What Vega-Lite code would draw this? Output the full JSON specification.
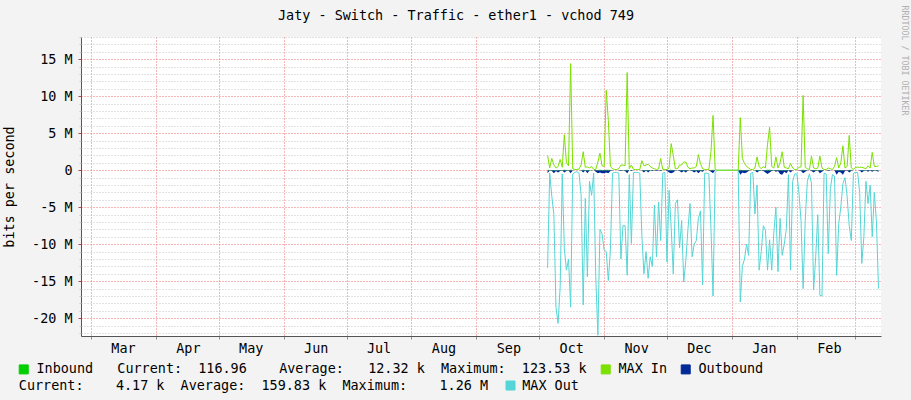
{
"$schema": "https://vega.github.io/schema/vega-lite/v6.json",
"width": 800, "height": 299,
"autosize": "none",
"padding": {"left": 81, "top": 37, "right": 30, "bottom": 64},
"background": "#F3F3F3",
"config": {
  "view": {"stroke": null, "fill": "#FFFFFF"},
  "font": "DejaVu Sans Mono",
  "axis": {"labelFont": "DejaVu Sans Mono", "titleFont": "DejaVu Sans Mono", "labelFontSize": 13.45, "titleFontSize": 13.45, "titleFontWeight": "normal", "labelColor": "#000000", "titleColor": "#000000"},
  "legend": {"symbolStrokeColor": "#000000", "symbolStrokeWidth": 1}
},
"data": {"values": [
{"t":"2013-10-05","mi":2.0,"mo":-13.2,"ob":-0.4,"ib":0.05},
{"t":"2013-10-06","mi":0.3,"mo":-0.4,"ob":-0.03,"ib":0.02},
{"t":"2013-10-07","mi":1.6,"mo":-3.5,"ob":-0.1,"ib":0.04},
{"t":"2013-10-08","mi":0.7,"mo":-6.0,"ob":-0.4,"ib":0.03},
{"t":"2013-10-09","mi":0.3,"mo":-18.5,"ob":-0.1,"ib":0.02},
{"t":"2013-10-10","mi":0.5,"mo":-20.7,"ob":-0.3,"ib":0.03},
{"t":"2013-10-11","mi":1.45,"mo":-15.8,"ob":-0.1,"ib":0.04},
{"t":"2013-10-12","mi":0.4,"mo":-0.5,"ob":-0.03,"ib":0.02},
{"t":"2013-10-13","mi":4.8,"mo":-10.6,"ob":-0.3,"ib":0.06},
{"t":"2013-10-14","mi":1.0,"mo":-13.5,"ob":-0.1,"ib":0.03},
{"t":"2013-10-15","mi":0.6,"mo":-12.0,"ob":-0.05,"ib":0.02},
{"t":"2013-10-16","mi":14.4,"mo":-18.5,"ob":-0.4,"ib":0.08},
{"t":"2013-10-17","mi":0.2,"mo":-0.5,"ob":-0.05,"ib":0.02},
{"t":"2013-10-18","mi":0.1,"mo":-0.3,"ob":-0.02,"ib":0.01},
{"t":"2013-10-19","mi":0.1,"mo":-0.2,"ob":-0.02,"ib":0.01},
{"t":"2013-10-20","mi":0.15,"mo":-0.4,"ob":-0.02,"ib":0.01},
{"t":"2013-10-21","mi":0.7,"mo":-3.3,"ob":-0.05,"ib":0.02},
{"t":"2013-10-22","mi":2.5,"mo":-18.2,"ob":-0.3,"ib":0.05},
{"t":"2013-10-23","mi":0.4,"mo":-3.8,"ob":-0.05,"ib":0.02},
{"t":"2013-10-24","mi":0.45,"mo":-14.4,"ob":-0.4,"ib":0.03},
{"t":"2013-10-25","mi":0.3,"mo":-1.5,"ob":-0.03,"ib":0.02},
{"t":"2013-10-26","mi":0.5,"mo":-3.4,"ob":-0.05,"ib":0.02},
{"t":"2013-10-27","mi":0.1,"mo":-0.4,"ob":-0.02,"ib":0.01},
{"t":"2013-10-28","mi":0.1,"mo":-14.4,"ob":-0.2,"ib":0.02},
{"t":"2013-10-29","mi":1.1,"mo":-22.3,"ob":-0.4,"ib":0.04},
{"t":"2013-10-30","mi":2.3,"mo":-8.0,"ob":-0.3,"ib":0.05},
{"t":"2013-10-31","mi":0.6,"mo":-8.6,"ob":-0.4,"ib":0.03},
{"t":"2013-11-01","mi":0.5,"mo":-10.8,"ob":-0.4,"ib":0.03},
{"t":"2013-11-02","mi":10.8,"mo":-11.0,"ob":-0.3,"ib":0.07},
{"t":"2013-11-03","mi":6.7,"mo":-14.9,"ob":-0.4,"ib":0.06},
{"t":"2013-11-04","mi":0.5,"mo":-10.7,"ob":-0.1,"ib":0.03},
{"t":"2013-11-05","mi":0.2,"mo":-0.4,"ob":-0.03,"ib":0.01},
{"t":"2013-11-06","mi":0.1,"mo":-0.3,"ob":-0.02,"ib":0.01},
{"t":"2013-11-07","mi":0.1,"mo":-0.3,"ob":-0.02,"ib":0.01},
{"t":"2013-11-08","mi":0.2,"mo":-0.4,"ob":-0.03,"ib":0.01},
{"t":"2013-11-09","mi":0.7,"mo":-12.0,"ob":-0.1,"ib":0.03},
{"t":"2013-11-10","mi":0.7,"mo":-7.5,"ob":-0.05,"ib":0.03},
{"t":"2013-11-11","mi":0.6,"mo":-7.5,"ob":-0.1,"ib":0.03},
{"t":"2013-11-12","mi":13.2,"mo":-14.2,"ob":-0.4,"ib":0.08},
{"t":"2013-11-13","mi":0.2,"mo":-0.6,"ob":-0.02,"ib":0.01},
{"t":"2013-11-14","mi":0.7,"mo":-9.9,"ob":-0.1,"ib":0.02},
{"t":"2013-11-15","mi":0.1,"mo":-0.3,"ob":-0.02,"ib":0.01},
{"t":"2013-11-16","mi":0.1,"mo":-0.3,"ob":-0.02,"ib":0.01},
{"t":"2013-11-17","mi":0.1,"mo":-0.3,"ob":-0.02,"ib":0.01},
{"t":"2013-11-18","mi":0.1,"mo":-0.4,"ob":-0.02,"ib":0.01},
{"t":"2013-11-19","mi":1.3,"mo":-8.8,"ob":-0.05,"ib":0.04},
{"t":"2013-11-20","mi":0.6,"mo":-14.0,"ob":-0.3,"ib":0.03},
{"t":"2013-11-21","mi":0.7,"mo":-11.0,"ob":-0.05,"ib":0.03},
{"t":"2013-11-22","mi":0.8,"mo":-14.6,"ob":-0.3,"ib":0.03},
{"t":"2013-11-23","mi":0.5,"mo":-11.7,"ob":-0.05,"ib":0.02},
{"t":"2013-11-24","mi":0.3,"mo":-13.0,"ob":-0.1,"ib":0.02},
{"t":"2013-11-25","mi":0.2,"mo":-4.7,"ob":-0.03,"ib":0.01},
{"t":"2013-11-26","mi":0.1,"mo":-11.7,"ob":-0.1,"ib":0.01},
{"t":"2013-11-27","mi":0.2,"mo":-4.3,"ob":-0.03,"ib":0.01},
{"t":"2013-11-28","mi":1.6,"mo":-9.5,"ob":-0.1,"ib":0.04},
{"t":"2013-11-29","mi":0.1,"mo":-0.4,"ob":-0.02,"ib":0.01},
{"t":"2013-11-30","mi":0.1,"mo":-0.3,"ob":-0.02,"ib":0.01},
{"t":"2013-12-01","mi":0.1,"mo":-12.4,"ob":-0.1,"ib":0.01},
{"t":"2013-12-02","mi":0.3,"mo":-2.7,"ob":-0.3,"ib":0.02},
{"t":"2013-12-03","mi":3.6,"mo":-7.7,"ob":-0.4,"ib":0.05},
{"t":"2013-12-04","mi":2.0,"mo":-14.0,"ob":-0.3,"ib":0.04},
{"t":"2013-12-05","mi":0.2,"mo":-4.5,"ob":-0.05,"ib":0.01},
{"t":"2013-12-06","mi":0.2,"mo":-4.0,"ob":-0.05,"ib":0.01},
{"t":"2013-12-07","mi":0.7,"mo":-10.5,"ob":-0.1,"ib":0.02},
{"t":"2013-12-08","mi":0.7,"mo":-6.8,"ob":-0.3,"ib":0.02},
{"t":"2013-12-09","mi":1.1,"mo":-15.1,"ob":-0.1,"ib":0.03},
{"t":"2013-12-10","mi":1.1,"mo":-12.2,"ob":-0.3,"ib":0.03},
{"t":"2013-12-11","mi":0.4,"mo":-8.0,"ob":-0.05,"ib":0.02},
{"t":"2013-12-12","mi":0.2,"mo":-4.5,"ob":-0.03,"ib":0.01},
{"t":"2013-12-13","mi":0.3,"mo":-11.7,"ob":-0.1,"ib":0.02},
{"t":"2013-12-14","mi":0.3,"mo":-10.0,"ob":-0.3,"ib":0.02},
{"t":"2013-12-15","mi":0.5,"mo":-9.5,"ob":-0.1,"ib":0.02},
{"t":"2013-12-16","mi":2.1,"mo":-6.5,"ob":-0.4,"ib":0.04},
{"t":"2013-12-17","mi":0.9,"mo":-5.5,"ob":-0.1,"ib":0.02},
{"t":"2013-12-18","mi":0.2,"mo":-15.5,"ob":-0.2,"ib":0.02},
{"t":"2013-12-19","mi":0.1,"mo":-0.4,"ob":-0.02,"ib":0.01},
{"t":"2013-12-20","mi":0.1,"mo":-0.4,"ob":-0.02,"ib":0.01},
{"t":"2013-12-21","mi":0.1,"mo":-0.5,"ob":-0.02,"ib":0.01},
{"t":"2013-12-22","mi":2.5,"mo":-7.9,"ob":-0.2,"ib":0.04},
{"t":"2013-12-23","mi":7.4,"mo":-17.0,"ob":-0.4,"ib":0.06},
{"t":"2013-12-24","mi":0.1,"mo":-0.3,"ob":-0.02,"ib":0.01},
{"t":"2013-12-25","mi":0,"mo":0,"ob":0,"ib":0},
{"t":"2013-12-26","mi":0,"mo":0,"ob":0,"ib":0},
{"t":"2013-12-27","mi":0,"mo":0,"ob":0,"ib":0},
{"t":"2013-12-28","mi":0,"mo":0,"ob":0,"ib":0},
{"t":"2013-12-29","mi":0,"mo":0,"ob":0,"ib":0},
{"t":"2013-12-30","mi":0,"mo":0,"ob":0,"ib":0},
{"t":"2013-12-31","mi":0,"mo":0,"ob":0,"ib":0},
{"t":"2014-01-01","mi":0,"mo":0,"ob":0,"ib":0},
{"t":"2014-01-02","mi":0,"mo":0,"ob":0,"ib":0},
{"t":"2014-01-03","mi":0,"mo":0,"ob":0,"ib":0},
{"t":"2014-01-04","mi":0,"mo":0,"ob":0,"ib":0},
{"t":"2014-01-05","mi":7.1,"mo":-17.8,"ob":-0.6,"ib":0.06},
{"t":"2014-01-06","mi":1.6,"mo":-13.0,"ob":-0.3,"ib":0.03},
{"t":"2014-01-07","mi":0.9,"mo":-12.0,"ob":-0.4,"ib":0.02},
{"t":"2014-01-08","mi":0.5,"mo":-10.0,"ob":-0.3,"ib":0.02},
{"t":"2014-01-09","mi":0.3,"mo":-11.5,"ob":-0.1,"ib":0.02},
{"t":"2014-01-10","mi":0.1,"mo":-0.4,"ob":-0.02,"ib":0.01},
{"t":"2014-01-11","mi":0.1,"mo":-0.3,"ob":-0.02,"ib":0.01},
{"t":"2014-01-12","mi":0.3,"mo":-5.9,"ob":-0.05,"ib":0.02},
{"t":"2014-01-13","mi":1.8,"mo":-2.0,"ob":-0.3,"ib":0.03},
{"t":"2014-01-14","mi":0.5,"mo":-13.5,"ob":-0.1,"ib":0.02},
{"t":"2014-01-15","mi":0.2,"mo":-11.0,"ob":-0.05,"ib":0.02},
{"t":"2014-01-16","mi":0.5,"mo":-7.5,"ob":-0.1,"ib":0.02},
{"t":"2014-01-17","mi":0.3,"mo":-8.1,"ob":-0.3,"ib":0.02},
{"t":"2014-01-18","mi":3.5,"mo":-13.5,"ob":-0.5,"ib":0.05},
{"t":"2014-01-19","mi":5.8,"mo":-9.4,"ob":-0.3,"ib":0.06},
{"t":"2014-01-20","mi":0.5,"mo":-13.5,"ob":-0.1,"ib":0.02},
{"t":"2014-01-21","mi":0.3,"mo":-8.5,"ob":-0.05,"ib":0.02},
{"t":"2014-01-22","mi":1.8,"mo":-5.0,"ob":-0.2,"ib":0.03},
{"t":"2014-01-23","mi":0.3,"mo":-13.7,"ob":-0.1,"ib":0.02},
{"t":"2014-01-24","mi":1.0,"mo":-6.5,"ob":-0.5,"ib":0.03},
{"t":"2014-01-25","mi":2.5,"mo":-11.5,"ob":-0.6,"ib":0.04},
{"t":"2014-01-26","mi":0.4,"mo":-10.0,"ob":-0.2,"ib":0.02},
{"t":"2014-01-27","mi":0.3,"mo":-7.9,"ob":-0.4,"ib":0.02},
{"t":"2014-01-28","mi":0.2,"mo":-0.6,"ob":-0.05,"ib":0.01},
{"t":"2014-01-29","mi":0.9,"mo":-13.5,"ob":-0.3,"ib":0.02},
{"t":"2014-01-30","mi":0.3,"mo":-1.5,"ob":-0.05,"ib":0.01},
{"t":"2014-01-31","mi":0.1,"mo":-0.5,"ob":-0.02,"ib":0.01},
{"t":"2014-02-01","mi":0.1,"mo":-0.5,"ob":-0.02,"ib":0.01},
{"t":"2014-02-02","mi":0.4,"mo":-3.0,"ob":-0.05,"ib":0.01},
{"t":"2014-02-03","mi":0.45,"mo":-6.8,"ob":-0.1,"ib":0.02},
{"t":"2014-02-04","mi":10.1,"mo":-16.0,"ob":-0.4,"ib":0.07},
{"t":"2014-02-05","mi":0.4,"mo":-6.8,"ob":-0.2,"ib":0.02},
{"t":"2014-02-06","mi":0.2,"mo":-1.5,"ob":-0.03,"ib":0.01},
{"t":"2014-02-07","mi":0.1,"mo":-0.5,"ob":-0.02,"ib":0.01},
{"t":"2014-02-08","mi":1.9,"mo":-1.8,"ob":-0.1,"ib":0.03},
{"t":"2014-02-09","mi":0.3,"mo":-16.2,"ob":-0.3,"ib":0.02},
{"t":"2014-02-10","mi":0.2,"mo":-11.7,"ob":-0.1,"ib":0.02},
{"t":"2014-02-11","mi":0.3,"mo":-6.0,"ob":-0.05,"ib":0.02},
{"t":"2014-02-12","mi":1.9,"mo":-16.9,"ob":-0.4,"ib":0.03},
{"t":"2014-02-13","mi":0.3,"mo":-17.0,"ob":-0.2,"ib":0.02},
{"t":"2014-02-14","mi":0.1,"mo":-0.4,"ob":-0.02,"ib":0.01},
{"t":"2014-02-15","mi":0.1,"mo":-0.5,"ob":-0.02,"ib":0.01},
{"t":"2014-02-16","mi":0.3,"mo":-11.3,"ob":-0.1,"ib":0.02},
{"t":"2014-02-17","mi":0.2,"mo":-2.5,"ob":-0.03,"ib":0.01},
{"t":"2014-02-18","mi":0.1,"mo":-0.6,"ob":-0.02,"ib":0.01},
{"t":"2014-02-19","mi":0.5,"mo":-0.8,"ob":-0.05,"ib":0.01},
{"t":"2014-02-20","mi":1.7,"mo":-14.2,"ob":-0.6,"ib":0.03},
{"t":"2014-02-21","mi":0.3,"mo":-7.2,"ob":-0.2,"ib":0.02},
{"t":"2014-02-22","mi":1.0,"mo":-5.0,"ob":-0.3,"ib":0.02},
{"t":"2014-02-23","mi":3.3,"mo":-1.8,"ob":-0.6,"ib":0.04},
{"t":"2014-02-24","mi":0.3,"mo":-1.0,"ob":-0.1,"ib":0.01},
{"t":"2014-02-25","mi":0.5,"mo":-3.5,"ob":-0.05,"ib":0.01},
{"t":"2014-02-26","mi":4.7,"mo":-7.5,"ob":-0.3,"ib":0.05},
{"t":"2014-02-27","mi":0.3,"mo":-9.5,"ob":-0.1,"ib":0.02},
{"t":"2014-02-28","mi":0.1,"mo":-0.4,"ob":-0.02,"ib":0.01},
{"t":"2014-03-01","mi":0.4,"mo":-0.3,"ob":-0.02,"ib":0.01},
{"t":"2014-03-02","mi":0.4,"mo":-0.3,"ob":-0.02,"ib":0.01},
{"t":"2014-03-03","mi":0.4,"mo":-3.0,"ob":-0.05,"ib":0.01},
{"t":"2014-03-04","mi":0.4,"mo":-12.6,"ob":-0.3,"ib":0.02},
{"t":"2014-03-05","mi":0.3,"mo":-9.0,"ob":-0.1,"ib":0.02},
{"t":"2014-03-06","mi":0.2,"mo":-1.5,"ob":-0.03,"ib":0.01},
{"t":"2014-03-07","mi":0.6,"mo":-4.5,"ob":-0.2,"ib":0.02},
{"t":"2014-03-08","mi":0.3,"mo":-2.0,"ob":-0.03,"ib":0.01},
{"t":"2014-03-09","mi":2.4,"mo":-9.0,"ob":-0.2,"ib":0.03},
{"t":"2014-03-10","mi":0.5,"mo":-3.0,"ob":-0.05,"ib":0.02},
{"t":"2014-03-11","mi":0.5,"mo":-7.0,"ob":-0.1,"ib":0.02},
{"t":"2014-03-12","mi":0.6,"mo":-16.0,"ob":-0.2,"ib":0.02}
]},
"layer": [
{
 "mark": {"type": "line", "strokeWidth": 1, "clip": true},
 "encoding": {
  "x": {"field": "t", "type": "temporal",
   "scale": {"type": "utc", "domain": [{"year": 2013, "month": 2, "date": 24, "hours": 5, "minutes": 30, "utc": true}, {"year": 2014, "month": 3, "date": 13, "hours": 4, "minutes": 20, "utc": true}]},
   "axis": {"orient": "bottom", "tickCount": {"interval": "month", "step": 1},
    "labelExpr": "(utcyear(datum.value) == 2014 && utcmonth(datum.value) == 2) ? '' : utcFormat(datum.value, '%b')",
    "labelOffset": 32, "labelPadding": 2, "tickSize": 3, "tickColor": "#909090",
    "domainColor": "#555555", "grid": true, "gridColor": "#F07070", "gridDash": [1, 2], "gridOpacity": 1,
    "title": null, "labelOverlap": false, "labelFlush": false, "labelBound": false}},
  "y": {"field": "mo", "type": "quantitative",
   "scale": {"domain": [-22.4, 18], "nice": false, "zero": false},
   "axis": {"orient": "left", "values": [-20, -15, -10, -5, 0, 5, 10, 15],
    "labelExpr": "datum.value == 0 ? '0' : datum.value + ' M'",
    "grid": true, "gridColor": "#F07070", "gridDash": [1, 2], "gridOpacity": 1,
    "tickSize": 3, "tickColor": "#A05050", "labelPadding": 6, "domainColor": "#555555",
    "title": "bits per second", "titleX": -68, "titleY": 149.5, "titleAngle": -90, "titleAlign": "center", "titleBaseline": "alphabetic"}},
  "stroke": {"datum": "MAX Out", "type": "nominal",
   "scale": {"domain": ["MAX Out"], "range": ["#55D5D5"]},
   "legend": {"orient": "none", "legendX": -62.2, "legendY": 341.8,
    "title": "Current:\u00a0\u00a0\u00a0\u00a04.17\u00a0k\u00a0\u00a0Average:\u00a0\u00a0159.83\u00a0k\u00a0\u00a0Maximum:\u00a0\u00a0\u00a0\u00a01.26\u00a0M",
    "titleOrient": "left", "titleFont": "DejaVu Sans Mono", "titleFontSize": 13.45, "titleFontWeight": "normal", "titleColor": "#000000",
    "titleLimit": 1000, "titlePadding": 15, "titleBaseline": "middle", "titleAnchor": "middle",
    "symbolType": "square", "symbolSize": 81, "symbolStrokeWidth": 1, "symbolStrokeColor": "#000000", "symbolFillColor": "#55D5D5",
    "labelFont": "DejaVu Sans Mono", "labelFontSize": 13.45, "labelColor": "#000000", "labelOffset": 5, "labelLimit": 1000, "padding": 0,
    "encode": {"symbols": {"enter": {"fill": {"value": "#55D5D5"}, "stroke": {"value": "#000000"}, "strokeWidth": {"value": 1}}, "update": {"fill": {"value": "#55D5D5"}, "stroke": {"value": "#000000"}, "strokeWidth": {"value": 1}, "opacity": {"value": 1}, "strokeOpacity": {"value": 1}}}}}}
 }
},
{
 "mark": {"type": "area", "clip": true},
 "encoding": {
  "x": {"field": "t", "type": "temporal",
   "axis": {"orient": "top", "labels": false, "ticks": false, "domain": false, "grid": false,
    "title": "Jaty - Switch - Traffic - ether1 - vchod 749", "titleX": 374.5, "titleY": -18, "titleAlign": "center", "titleBaseline": "alphabetic"}},
  "y": {"field": "ob", "type": "quantitative",
   "axis": {"orient": "left", "values": [-22, -21, -19, -18, -17, -16, -14, -13, -12, -11, -9, -8, -7, -6, -4, -3, -2, -1, 1, 2, 3, 4, 6, 7, 8, 9, 11, 12, 13, 14, 16, 17, 18],
    "labels": false, "domain": false, "grid": true, "gridColor": "#C4C4C4", "gridDash": [1, 2], "gridOpacity": 1,
    "tickSize": 2, "tickColor": "#C8C8C8", "title": null}},
  "color": {"datum": "Outbound", "type": "nominal",
   "scale": {"domain": ["Inbound", "MAX In", "Outbound"], "range": ["#00CF00", "#7CE000", "#002A97"]},
   "legend": {"orient": "none", "legendX": -64, "legendY": 325.3, "direction": "horizontal", "title": null,
    "symbolType": "square", "symbolSize": 81, "symbolStrokeWidth": 1, "symbolStrokeColor": "#000000",
    "labelFont": "DejaVu Sans Mono", "labelFontSize": 13.45, "labelColor": "#000000", "labelOffset": 6, "labelLimit": 1000,
    "columnPadding": 12, "padding": 0,
    "labelExpr": "datum.label == 'Inbound' ? 'Inbound\u00a0\u00a0\u00a0Current:\u00a0\u00a0116.96\u00a0\u00a0\u00a0\u00a0Average:\u00a0\u00a0\u00a012.32\u00a0k\u00a0\u00a0Maximum:\u00a0\u00a0123.53\u00a0k' : datum.label",
    "encode": {"symbols": {"enter": {"stroke": {"value": "#000000"}, "strokeWidth": {"value": 1}}, "update": {"fill": {"scale": "color", "field": "value"}, "stroke": {"value": "#000000"}, "strokeWidth": {"value": 1}, "opacity": {"value": 1}, "strokeOpacity": {"value": 1}}}}}}
 }
},
{
 "mark": {"type": "area", "clip": true},
 "encoding": {
  "x": {"field": "t", "type": "temporal", "axis": null},
  "y": {"field": "ib", "type": "quantitative",
   "axis": {"orient": "right", "labels": false, "ticks": false, "domain": false, "grid": false,
    "title": "RRDTOOL / TOBI OETIKER", "titleAngle": 90, "titleX": 22, "titleY": -32, "titleAlign": "left", "titleBaseline": "middle",
    "titleFontSize": 8.3, "titleColor": "#B0B0B0"}},
  "color": {"datum": "Inbound", "type": "nominal"}
 }
},
{
 "mark": {"type": "line", "strokeWidth": 1, "clip": true},
 "encoding": {
  "x": {"field": "t", "type": "temporal", "axis": null},
  "y": {"field": "mi", "type": "quantitative", "axis": null},
  "color": {"datum": "MAX In", "type": "nominal"}
 }
}
],
"resolve": {"axis": {"x": "independent", "y": "independent"}}
}
